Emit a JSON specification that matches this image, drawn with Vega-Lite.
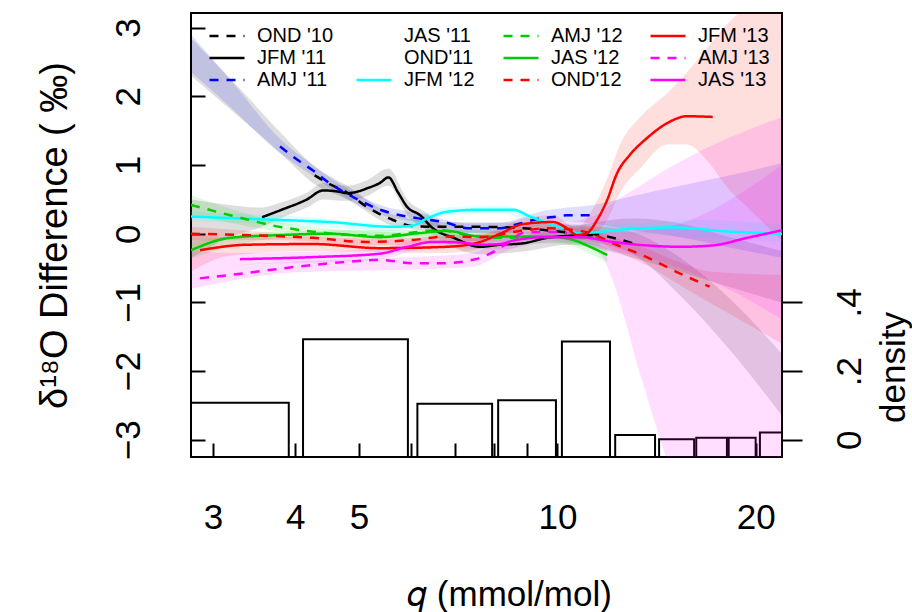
{
  "$schema": "https://vega.github.io/schema/vega-lite/v6.json",
  "width": 591,
  "height": 444,
  "autosize": {"type": "none"},
  "padding": {"left": 191, "top": 13, "right": 130, "bottom": 155},
  "background": "white",
  "config": {
    "font": "Liberation Sans",
    "view": {"stroke": "black", "strokeWidth": 2},
    "axis": {
      "grid": false, "domain": false, "tickColor": "black", "tickWidth": 2,
      "labelColor": "black", "titleColor": "black", "labelFont": "Liberation Sans", "titleFont": "Liberation Sans",
      "labelFontSize": 35, "titleFontSize": 35, "titleFontWeight": "normal", "labelOverlap": false, "labelFlush": false, "labelBound": false
    },
    "legend": {
      "labelFont": "Liberation Sans", "labelFontSize": 20, "labelColor": "black", "labelLimit": 300
    }
  },
  "datasets": {
    "hist": [
      {"lo": 2.0, "hi": 3.91, "d": 0.108},
      {"lo": 4.11, "hi": 5.93, "d": 0.293},
      {"lo": 6.13, "hi": 7.96, "d": 0.105},
      {"lo": 8.13, "hi": 9.95, "d": 0.115},
      {"lo": 10.16, "hi": 12.02, "d": 0.286},
      {"lo": 12.24, "hi": 14.07, "d": 0.014},
      {"lo": 14.27, "hi": 16.13, "d": 0.002},
      {"lo": 16.25, "hi": 18.09, "d": 0.006},
      {"lo": 18.2, "hi": 20.0, "d": 0.006},
      {"lo": 20.3, "hi": 22.0, "d": 0.021}
    ],
    "bands": [
      {"s": "OND '10", "q": 2.778, "lo": 2.3, "hi": 2.85},
      {"s": "OND '10", "q": 3.379, "lo": 1.6, "hi": 2.0},
      {"s": "OND '10", "q": 3.792, "lo": 1.18, "hi": 1.48},
      {"s": "OND '10", "q": 4.28, "lo": 0.72, "hi": 0.98},
      {"s": "OND '10", "q": 4.793, "lo": 0.5, "hi": 0.7},
      {"s": "OND '10", "q": 5.63, "lo": 0.12, "hi": 0.28},
      {"s": "OND '10", "q": 6.637, "lo": 0.03, "hi": 0.17},
      {"s": "OND '10", "q": 8.869, "lo": 0.0, "hi": 0.16},
      {"s": "OND '10", "q": 11.62, "lo": -0.14, "hi": 0.1},
      {"s": "OND '10", "q": 13.03, "lo": -0.3, "hi": 0.02},
      {"s": "OND '10", "q": 15.36, "lo": -0.9, "hi": -0.35},
      {"s": "OND '10", "q": 18.3, "lo": -1.7, "hi": -0.95},
      {"s": "OND '10", "q": 21.93, "lo": -2.65, "hi": -1.75},

      {"s": "JFM '11", "q": 2.778, "lo": -0.35, "hi": 0.5},
      {"s": "JFM '11", "q": 3.184, "lo": -0.05, "hi": 0.42},
      {"s": "JFM '11", "q": 3.561, "lo": 0.1, "hi": 0.38},
      {"s": "JFM '11", "q": 3.792, "lo": 0.22, "hi": 0.45},
      {"s": "JFM '11", "q": 4.167, "lo": 0.38, "hi": 0.6},
      {"s": "JFM '11", "q": 4.407, "lo": 0.5, "hi": 0.74},
      {"s": "JFM '11", "q": 4.793, "lo": 0.48, "hi": 0.7},
      {"s": "JFM '11", "q": 5.139, "lo": 0.55, "hi": 0.78},
      {"s": "JFM '11", "q": 5.54, "lo": 0.7, "hi": 0.95},
      {"s": "JFM '11", "q": 5.916, "lo": 0.27, "hi": 0.5},
      {"s": "JFM '11", "q": 6.337, "lo": 0.05, "hi": 0.3},
      {"s": "JFM '11", "q": 6.799, "lo": -0.15, "hi": 0.06},
      {"s": "JFM '11", "q": 7.63, "lo": -0.3, "hi": -0.07},
      {"s": "JFM '11", "q": 8.869, "lo": -0.26, "hi": -0.03},
      {"s": "JFM '11", "q": 10.45, "lo": -0.16, "hi": 0.1},
      {"s": "JFM '11", "q": 11.33, "lo": -0.2, "hi": 0.16},
      {"s": "JFM '11", "q": 13.03, "lo": -0.35, "hi": 0.22},
      {"s": "JFM '11", "q": 15.36, "lo": -0.55, "hi": 0.15},
      {"s": "JFM '11", "q": 18.3, "lo": -0.78, "hi": -0.05},
      {"s": "JFM '11", "q": 21.93, "lo": -1.0, "hi": -0.25},

      {"s": "AMJ '11", "q": 2.778, "lo": 2.35, "hi": 2.9},
      {"s": "AMJ '11", "q": 3.184, "lo": 1.85, "hi": 2.25},
      {"s": "AMJ '11", "q": 3.792, "lo": 1.17, "hi": 1.38},
      {"s": "AMJ '11", "q": 4.256, "lo": 0.84, "hi": 1.0},
      {"s": "AMJ '11", "q": 4.677, "lo": 0.57, "hi": 0.72},
      {"s": "AMJ '11", "q": 5.379, "lo": 0.28, "hi": 0.42},
      {"s": "AMJ '11", "q": 6.187, "lo": 0.16, "hi": 0.3},
      {"s": "AMJ '11", "q": 7.292, "lo": 0.01, "hi": 0.15},
      {"s": "AMJ '11", "q": 8.184, "lo": 0.0, "hi": 0.16},
      {"s": "AMJ '11", "q": 9.41, "lo": 0.12, "hi": 0.32},
      {"s": "AMJ '11", "q": 10.34, "lo": 0.17, "hi": 0.38},
      {"s": "AMJ '11", "q": 11.33, "lo": 0.15, "hi": 0.42},
      {"s": "AMJ '11", "q": 13.03, "lo": 0.05, "hi": 0.55},
      {"s": "AMJ '11", "q": 15.36, "lo": -0.05, "hi": 0.7},
      {"s": "AMJ '11", "q": 18.3, "lo": -0.2, "hi": 0.85},
      {"s": "AMJ '11", "q": 21.93, "lo": -0.35, "hi": 1.03},

      {"s": "JFM '12", "q": 2.778, "lo": 0.18, "hi": 0.32},
      {"s": "JFM '12", "q": 3.9, "lo": 0.13, "hi": 0.26},
      {"s": "JFM '12", "q": 5.63, "lo": 0.04, "hi": 0.15},
      {"s": "JFM '12", "q": 6.799, "lo": 0.26, "hi": 0.38},
      {"s": "JFM '12", "q": 8.184, "lo": 0.29, "hi": 0.41},
      {"s": "JFM '12", "q": 10.196, "lo": 0.02, "hi": 0.14},
      {"s": "JFM '12", "q": 12.89, "lo": 0.0, "hi": 0.14},
      {"s": "JFM '12", "q": 16.46, "lo": -0.06, "hi": 0.2},
      {"s": "JFM '12", "q": 21.93, "lo": -0.12, "hi": 0.13},

      {"s": "AMJ '12", "q": 2.778, "lo": 0.28, "hi": 0.56},
      {"s": "AMJ '12", "q": 3.792, "lo": 0.03, "hi": 0.17},
      {"s": "AMJ '12", "q": 5.379, "lo": -0.08, "hi": 0.03},
      {"s": "AMJ '12", "q": 8.184, "lo": -0.12, "hi": 0.0},
      {"s": "AMJ '12", "q": 11.62, "lo": -0.17, "hi": 0.05},

      {"s": "JAS '12", "q": 2.778, "lo": -0.36, "hi": -0.12},
      {"s": "JAS '12", "q": 3.792, "lo": -0.07, "hi": 0.03},
      {"s": "JAS '12", "q": 6.187, "lo": -0.04, "hi": 0.06},
      {"s": "JAS '12", "q": 9.645, "lo": -0.09, "hi": 0.01},
      {"s": "JAS '12", "q": 11.9, "lo": -0.42, "hi": -0.2},

      {"s": "OND'12", "q": 2.778, "lo": -0.1, "hi": 0.1},
      {"s": "OND'12", "q": 3.792, "lo": -0.09, "hi": 0.01},
      {"s": "OND'12", "q": 5.139, "lo": -0.17, "hi": -0.07},
      {"s": "OND'12", "q": 7.63, "lo": -0.1, "hi": 0.0},
      {"s": "OND'12", "q": 9.645, "lo": 0.02, "hi": 0.14},
      {"s": "OND'12", "q": 11.21, "lo": -0.05, "hi": 0.08},
      {"s": "OND'12", "q": 12.15, "lo": -0.23, "hi": -0.05},
      {"s": "OND'12", "q": 13.67, "lo": -0.46, "hi": -0.22},
      {"s": "OND'12", "q": 15.36, "lo": -0.75, "hi": -0.42},
      {"s": "OND'12", "q": 17.03, "lo": -1.0, "hi": -0.55},
      {"s": "OND'12", "q": 21.93, "lo": -1.6, "hi": -0.6},

      {"s": "JFM '13", "q": 2.778, "lo": -0.55, "hi": 0.0},
      {"s": "JFM '13", "q": 3.184, "lo": -0.32, "hi": -0.05},
      {"s": "JFM '13", "q": 4.256, "lo": -0.25, "hi": -0.05},
      {"s": "JFM '13", "q": 6.799, "lo": -0.28, "hi": -0.1},
      {"s": "JFM '13", "q": 7.63, "lo": -0.22, "hi": -0.03},
      {"s": "JFM '13", "q": 8.184, "lo": -0.08, "hi": 0.08},
      {"s": "JFM '13", "q": 8.869, "lo": 0.05, "hi": 0.22},
      {"s": "JFM '13", "q": 9.848, "lo": 0.08, "hi": 0.27},
      {"s": "JFM '13", "q": 10.71, "lo": -0.1, "hi": 0.08},
      {"s": "JFM '13", "q": 11.21, "lo": -0.05, "hi": 0.3},
      {"s": "JFM '13", "q": 11.9, "lo": 0.2, "hi": 0.8},
      {"s": "JFM '13", "q": 12.45, "lo": 0.6, "hi": 1.3},
      {"s": "JFM '13", "q": 13.36, "lo": 0.95, "hi": 1.7},
      {"s": "JFM '13", "q": 14.68, "lo": 1.3, "hi": 2.05},
      {"s": "JFM '13", "q": 15.73, "lo": 1.3, "hi": 2.35},
      {"s": "JFM '13", "q": 16.86, "lo": 1.07, "hi": 2.7},
      {"s": "JFM '13", "q": 18.09, "lo": 0.68, "hi": 3.05},
      {"s": "JFM '13", "q": 19.62, "lo": 0.35, "hi": 3.35},
      {"s": "JFM '13", "q": 21.93, "lo": -0.1, "hi": 3.7},

      {"s": "AMJ '13", "q": 2.778, "lo": -0.8, "hi": -0.5},
      {"s": "AMJ '13", "q": 4.024, "lo": -0.56, "hi": -0.4},
      {"s": "AMJ '13", "q": 6.038, "lo": -0.52, "hi": -0.34},
      {"s": "AMJ '13", "q": 7.447, "lo": -0.48, "hi": -0.28},
      {"s": "AMJ '13", "q": 8.387, "lo": -0.25, "hi": -0.03},
      {"s": "AMJ '13", "q": 9.645, "lo": -0.07, "hi": 0.13},
      {"s": "AMJ '13", "q": 10.83, "lo": -0.15, "hi": 0.2},
      {"s": "AMJ '13", "q": 11.62, "lo": -0.3, "hi": 0.3},
      {"s": "AMJ '13", "q": 12.15, "lo": -0.7, "hi": 0.45},
      {"s": "AMJ '13", "q": 13.36, "lo": -2.05, "hi": 0.7},
      {"s": "AMJ '13", "q": 15.03, "lo": -3.6, "hi": 1.0},
      {"s": "AMJ '13", "q": 16.46, "lo": -4.6, "hi": 1.2},
      {"s": "AMJ '13", "q": 21.93, "lo": -7.5, "hi": 1.7},

      {"s": "JAS '13", "q": 2.778, "lo": -0.5, "hi": -0.25},
      {"s": "JAS '13", "q": 3.297, "lo": -0.45, "hi": -0.28},
      {"s": "JAS '13", "q": 4.256, "lo": -0.42, "hi": -0.26},
      {"s": "JAS '13", "q": 5.379, "lo": -0.37, "hi": -0.21},
      {"s": "JAS '13", "q": 6.47, "lo": -0.2, "hi": -0.04},
      {"s": "JAS '13", "q": 8.184, "lo": -0.23, "hi": -0.07},
      {"s": "JAS '13", "q": 9.645, "lo": -0.13, "hi": 0.03},
      {"s": "JAS '13", "q": 10.83, "lo": -0.13, "hi": 0.03},
      {"s": "JAS '13", "q": 12.15, "lo": -0.25, "hi": 0.02},
      {"s": "JAS '13", "q": 13.67, "lo": -0.35, "hi": 0.05},
      {"s": "JAS '13", "q": 15.36, "lo": -0.5, "hi": 0.15},
      {"s": "JAS '13", "q": 17.21, "lo": -0.7, "hi": 0.35},
      {"s": "JAS '13", "q": 19.41, "lo": -0.95, "hi": 0.65},
      {"s": "JAS '13", "q": 21.93, "lo": -1.25, "hi": 1.0}
    ],
    "lines": [
      {"s": "OND '10", "q": 4.28, "v": 0.85},
      {"s": "OND '10", "q": 4.516, "v": 0.72},
      {"s": "OND '10", "q": 4.793, "v": 0.6},
      {"s": "OND '10", "q": 5.139, "v": 0.39},
      {"s": "OND '10", "q": 5.63, "v": 0.2},
      {"s": "OND '10", "q": 6.038, "v": 0.11},
      {"s": "OND '10", "q": 6.637, "v": 0.1},
      {"s": "OND '10", "q": 7.63, "v": 0.1},
      {"s": "OND '10", "q": 8.869, "v": 0.08},
      {"s": "OND '10", "q": 10.34, "v": 0.02},
      {"s": "OND '10", "q": 11.62, "v": -0.02},
      {"s": "OND '10", "q": 13.03, "v": -0.14},

      {"s": "JFM '11", "q": 3.561, "v": 0.24},
      {"s": "JFM '11", "q": 3.792, "v": 0.34},
      {"s": "JFM '11", "q": 4.167, "v": 0.5},
      {"s": "JFM '11", "q": 4.407, "v": 0.63},
      {"s": "JFM '11", "q": 4.677, "v": 0.61},
      {"s": "JFM '11", "q": 4.793, "v": 0.59},
      {"s": "JFM '11", "q": 5.0, "v": 0.62},
      {"s": "JFM '11", "q": 5.139, "v": 0.66},
      {"s": "JFM '11", "q": 5.379, "v": 0.74},
      {"s": "JFM '11", "q": 5.54, "v": 0.82},
      {"s": "JFM '11", "q": 5.73, "v": 0.6},
      {"s": "JFM '11", "q": 5.916, "v": 0.39},
      {"s": "JFM '11", "q": 6.187, "v": 0.27},
      {"s": "JFM '11", "q": 6.47, "v": 0.08},
      {"s": "JFM '11", "q": 6.96, "v": -0.06},
      {"s": "JFM '11", "q": 7.63, "v": -0.19},
      {"s": "JFM '11", "q": 8.184, "v": -0.16},
      {"s": "JFM '11", "q": 8.869, "v": -0.14},
      {"s": "JFM '11", "q": 9.645, "v": -0.06},
      {"s": "JFM '11", "q": 10.45, "v": -0.03},
      {"s": "JFM '11", "q": 11.33, "v": -0.02},

      {"s": "AMJ '11", "q": 3.792, "v": 1.27},
      {"s": "AMJ '11", "q": 4.024, "v": 1.08},
      {"s": "AMJ '11", "q": 4.256, "v": 0.92},
      {"s": "AMJ '11", "q": 4.516, "v": 0.73},
      {"s": "AMJ '11", "q": 4.677, "v": 0.64},
      {"s": "AMJ '11", "q": 5.02, "v": 0.48},
      {"s": "AMJ '11", "q": 5.379, "v": 0.35},
      {"s": "AMJ '11", "q": 5.77, "v": 0.27},
      {"s": "AMJ '11", "q": 6.187, "v": 0.22},
      {"s": "AMJ '11", "q": 6.799, "v": 0.16},
      {"s": "AMJ '11", "q": 7.292, "v": 0.08},
      {"s": "AMJ '11", "q": 8.184, "v": 0.08},
      {"s": "AMJ '11", "q": 8.776, "v": 0.15},
      {"s": "AMJ '11", "q": 9.41, "v": 0.22},
      {"s": "AMJ '11", "q": 9.987, "v": 0.25},
      {"s": "AMJ '11", "q": 10.34, "v": 0.27},
      {"s": "AMJ '11", "q": 11.33, "v": 0.27},

      {"s": "JFM '12", "q": 2.778, "v": 0.25},
      {"s": "JFM '12", "q": 3.792, "v": 0.2},
      {"s": "JFM '12", "q": 4.516, "v": 0.17},
      {"s": "JFM '12", "q": 5.63, "v": 0.1},
      {"s": "JFM '12", "q": 6.038, "v": 0.12},
      {"s": "JFM '12", "q": 6.337, "v": 0.22},
      {"s": "JFM '12", "q": 6.799, "v": 0.32},
      {"s": "JFM '12", "q": 7.63, "v": 0.35},
      {"s": "JFM '12", "q": 8.564, "v": 0.35},
      {"s": "JFM '12", "q": 9.088, "v": 0.25},
      {"s": "JFM '12", "q": 10.196, "v": 0.08},
      {"s": "JFM '12", "q": 10.83, "v": 0.01},
      {"s": "JFM '12", "q": 12.89, "v": 0.07},
      {"s": "JFM '12", "q": 14.99, "v": 0.09},
      {"s": "JFM '12", "q": 18.3, "v": 0.03},
      {"s": "JFM '12", "q": 21.93, "v": 0.0},

      {"s": "AMJ '12", "q": 2.778, "v": 0.42},
      {"s": "AMJ '12", "q": 3.184, "v": 0.27},
      {"s": "AMJ '12", "q": 3.792, "v": 0.1},
      {"s": "AMJ '12", "q": 4.256, "v": 0.03},
      {"s": "AMJ '12", "q": 5.379, "v": -0.03},
      {"s": "AMJ '12", "q": 6.187, "v": 0.03},
      {"s": "AMJ '12", "q": 6.637, "v": 0.05},
      {"s": "AMJ '12", "q": 7.292, "v": -0.02},
      {"s": "AMJ '12", "q": 8.184, "v": -0.06},
      {"s": "AMJ '12", "q": 9.088, "v": -0.05},
      {"s": "AMJ '12", "q": 10.83, "v": -0.05},
      {"s": "AMJ '12", "q": 11.62, "v": -0.06},

      {"s": "JAS '12", "q": 2.778, "v": -0.24},
      {"s": "JAS '12", "q": 3.184, "v": -0.06},
      {"s": "JAS '12", "q": 3.792, "v": -0.02},
      {"s": "JAS '12", "q": 4.516, "v": 0.0},
      {"s": "JAS '12", "q": 5.379, "v": -0.05},
      {"s": "JAS '12", "q": 6.187, "v": 0.01},
      {"s": "JAS '12", "q": 6.799, "v": 0.04},
      {"s": "JAS '12", "q": 7.63, "v": -0.04},
      {"s": "JAS '12", "q": 9.645, "v": -0.04},
      {"s": "JAS '12", "q": 10.56, "v": -0.09},
      {"s": "JAS '12", "q": 11.21, "v": -0.19},
      {"s": "JAS '12", "q": 11.9, "v": -0.31},

      {"s": "OND'12", "q": 2.778, "v": 0.0},
      {"s": "OND'12", "q": 3.379, "v": -0.02},
      {"s": "OND'12", "q": 4.256, "v": -0.06},
      {"s": "OND'12", "q": 5.139, "v": -0.12},
      {"s": "OND'12", "q": 6.038, "v": -0.09},
      {"s": "OND'12", "q": 6.799, "v": -0.04},
      {"s": "OND'12", "q": 7.63, "v": -0.05},
      {"s": "OND'12", "q": 8.776, "v": 0.04},
      {"s": "OND'12", "q": 9.645, "v": 0.08},
      {"s": "OND'12", "q": 10.45, "v": 0.06},
      {"s": "OND'12", "q": 11.21, "v": 0.01},
      {"s": "OND'12", "q": 12.15, "v": -0.14},
      {"s": "OND'12", "q": 13.67, "v": -0.34},
      {"s": "OND'12", "q": 15.36, "v": -0.58},
      {"s": "OND'12", "q": 17.03, "v": -0.77},

      {"s": "JFM '13", "q": 2.867, "v": -0.24},
      {"s": "JFM '13", "q": 3.379, "v": -0.16},
      {"s": "JFM '13", "q": 4.256, "v": -0.15},
      {"s": "JFM '13", "q": 5.379, "v": -0.21},
      {"s": "JFM '13", "q": 6.799, "v": -0.19},
      {"s": "JFM '13", "q": 7.63, "v": -0.12},
      {"s": "JFM '13", "q": 8.184, "v": 0.0},
      {"s": "JFM '13", "q": 8.869, "v": 0.14},
      {"s": "JFM '13", "q": 9.848, "v": 0.17},
      {"s": "JFM '13", "q": 10.34, "v": 0.08},
      {"s": "JFM '13", "q": 10.71, "v": -0.02},
      {"s": "JFM '13", "q": 11.09, "v": 0.01},
      {"s": "JFM '13", "q": 11.49, "v": 0.2},
      {"s": "JFM '13", "q": 11.9, "v": 0.49},
      {"s": "JFM '13", "q": 12.32, "v": 0.88},
      {"s": "JFM '13", "q": 12.89, "v": 1.15},
      {"s": "JFM '13", "q": 13.67, "v": 1.39},
      {"s": "JFM '13", "q": 14.68, "v": 1.61},
      {"s": "JFM '13", "q": 15.73, "v": 1.71},
      {"s": "JFM '13", "q": 17.21, "v": 1.7},

      {"s": "AMJ '13", "q": 2.867, "v": -0.65},
      {"s": "AMJ '13", "q": 3.379, "v": -0.57},
      {"s": "AMJ '13", "q": 4.024, "v": -0.48},
      {"s": "AMJ '13", "q": 4.793, "v": -0.41},
      {"s": "AMJ '13", "q": 5.379, "v": -0.38},
      {"s": "AMJ '13", "q": 6.038, "v": -0.43},
      {"s": "AMJ '13", "q": 6.637, "v": -0.43},
      {"s": "AMJ '13", "q": 7.447, "v": -0.38},
      {"s": "AMJ '13", "q": 7.901, "v": -0.29},
      {"s": "AMJ '13", "q": 8.387, "v": -0.14},
      {"s": "AMJ '13", "q": 8.869, "v": 0.01},
      {"s": "AMJ '13", "q": 9.645, "v": 0.03},
      {"s": "AMJ '13", "q": 10.34, "v": 0.01},

      {"s": "JAS '13", "q": 3.297, "v": -0.37},
      {"s": "JAS '13", "q": 4.256, "v": -0.34},
      {"s": "JAS '13", "q": 5.379, "v": -0.29},
      {"s": "JAS '13", "q": 5.916, "v": -0.19},
      {"s": "JAS '13", "q": 6.47, "v": -0.12},
      {"s": "JAS '13", "q": 7.19, "v": -0.13},
      {"s": "JAS '13", "q": 7.63, "v": -0.16},
      {"s": "JAS '13", "q": 8.184, "v": -0.15},
      {"s": "JAS '13", "q": 8.564, "v": -0.1},
      {"s": "JAS '13", "q": 9.645, "v": -0.05},
      {"s": "JAS '13", "q": 10.83, "v": -0.05},
      {"s": "JAS '13", "q": 12.15, "v": -0.12},
      {"s": "JAS '13", "q": 13.67, "v": -0.17},
      {"s": "JAS '13", "q": 15.36, "v": -0.19},
      {"s": "JAS '13", "q": 17.21, "v": -0.17},
      {"s": "JAS '13", "q": 19.41, "v": -0.06},
      {"s": "JAS '13", "q": 21.93, "v": 0.05}
    ]
  },
  "resolve": {"scale": {"y": "independent"}, "axis": {"y": "independent"}},
  "layer": [
    {
      "data": {"name": "hist"},
      "mark": {"type": "rect", "fillOpacity": 0, "stroke": "black", "strokeWidth": 2, "clip": true},
      "encoding": {
        "x": {
          "field": "lo", "type": "quantitative",
          "scale": {"type": "log", "domain": [2.778, 21.93], "nice": false},
          "axis": {
            "orient": "bottom", "values": [3, 4, 5, 6, 7, 8, 9, 10, 20], "format": "d",
            "labelExpr": "indexof([3,4,5,10,20], datum.value) >= 0 ? datum.label : ''",
            "offset": -14, "tickSize": 14, "labelPadding": 43,
            "title": "𝑞 (mmol/mol)", "titleX": 318, "titleY": 162, "titleAlign": "center", "titleBaseline": "alphabetic"
          }
        },
        "x2": {"field": "hi"},
        "y": {
          "field": "d", "type": "quantitative",
          "scale": {"domain": [-0.05, 1.2426], "nice": false, "zero": false},
          "axis": {
            "orient": "right", "values": [0, 0.2, 0.4],
            "labelExpr": "datum.value == 0 ? '0' : replace(format(datum.value, '.1f'), '0.', '.')",
            "tickSize": 20, "labelPadding": 30, "labelAngle": -90, "labelAlign": "center", "labelBaseline": "top",
            "title": "density", "titleAngle": -90, "titleX": 111, "titleY": 354, "titleAlign": "center", "titleBaseline": "middle"
          }
        },
        "y2": {"datum": -0.05}
      }
    },
    {
      "data": {"name": "bands"},
      "mark": {"type": "area", "fillOpacity": 0.13, "clip": true, "interpolate": "monotone"},
      "encoding": {
        "x": {"field": "q", "type": "quantitative", "scale": {"type": "log", "domain": [2.778, 21.93], "nice": false}},
        "y": {"field": "lo", "type": "quantitative", "scale": {"domain": [-3.25, 3.213], "nice": false, "zero": false}, "axis": null},
        "y2": {"field": "hi"},
        "fill": {
          "field": "s", "type": "nominal", "legend": null,
          "scale": {
            "domain": ["OND '10", "JFM '11", "AMJ '11", "JFM '12", "AMJ '12", "JAS '12", "OND'12", "JFM '13", "AMJ '13", "JAS '13"],
            "range": ["#000000", "#000000", "#0000FF", "#00FFFF", "#00CD00", "#00CD00", "#FF0000", "#FF0000", "#FF00FF", "#FF00FF"]
          }
        }
      }
    },
    {
      "data": {"name": "lines"},
      "mark": {"type": "line", "strokeWidth": 2.5, "clip": true, "interpolate": "monotone"},
      "encoding": {
        "x": {"field": "q", "type": "quantitative", "scale": {"type": "log", "domain": [2.778, 21.93], "nice": false}},
        "y": {
          "field": "v", "type": "quantitative",
          "scale": {"domain": [-3.25, 3.213], "nice": false, "zero": false},
          "axis": {
            "orient": "left", "values": [-3, -2, -1, 0, 1, 2, 3], "format": "d",
            "offset": -14, "tickSize": 14, "labelPadding": 45, "labelAngle": -90, "labelAlign": "center", "labelBaseline": "bottom",
            "title": "δ¹⁸O Difference ( ‰)", "titleFontSize": 38, "titleAngle": -90, "titleX": -150, "titleY": 222, "titleAlign": "center", "titleBaseline": "middle"
          }
        },
        "color": {
          "field": "s", "type": "nominal",
          "scale": {
            "domain": ["OND '10", "JFM '11", "AMJ '11", "JAS '11", "OND'11", "JFM '12", "AMJ '12", "JAS '12", "OND'12", "JFM '13", "AMJ '13", "JAS '13"],
            "range": ["#000000", "#000000", "#0000FF", "#ffffff", "#ffffff", "#00FFFF", "#00CD00", "#00CD00", "#FF0000", "#FF0000", "#FF00FF", "#FF00FF"]
          },
          "legend": {
            "title": null, "orient": "none", "legendX": 26, "legendY": 13, "columns": 4, "gridAlign": "all",
            "symbolType": "M-3.5,0H3.5", "symbolSize": 100, "symbolStrokeWidth": 2.5,
            "labelOffset": 20, "columnPadding": 17, "rowPadding": 2
          }
        },
        "strokeDash": {
          "field": "s", "type": "nominal",
          "scale": {
            "domain": ["OND '10", "JFM '11", "AMJ '11", "JAS '11", "OND'11", "JFM '12", "AMJ '12", "JAS '12", "OND'12", "JFM '13", "AMJ '13", "JAS '13"],
            "range": [[9, 8], [1, 0], [9, 8], [1, 0], [1, 0], [1, 0], [9, 8], [1, 0], [9, 8], [1, 0], [9, 8], [1, 0]]
          },
          "legend": {
            "title": null, "orient": "none", "legendX": 26, "legendY": 13, "columns": 4, "gridAlign": "all",
            "symbolType": "M-3.5,0H3.5", "symbolSize": 100, "symbolStrokeWidth": 2.5,
            "labelOffset": 20, "columnPadding": 17, "rowPadding": 2
          }
        }
      }
    }
  ]
}
